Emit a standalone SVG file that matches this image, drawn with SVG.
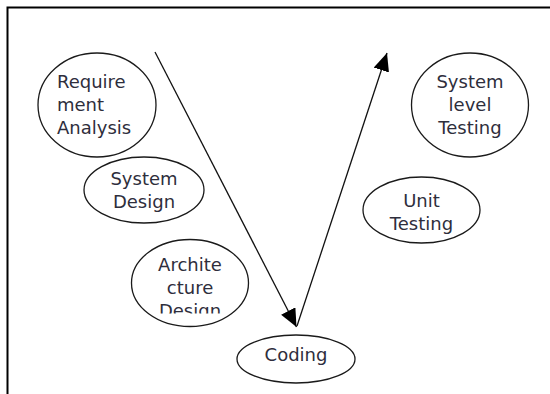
<svg xmlns="http://www.w3.org/2000/svg" width="550" height="394" viewBox="0 0 550 394">
  <style>
    .node ellipse { fill: #ffffff; stroke: #1a1a1a; stroke-width: 1.3; }
    .node text { font-family: "DejaVu Sans", "Liberation Sans", sans-serif; font-size: 18px; fill: #2e2e3c; }
    .mid { text-anchor: middle; }
    .conn { fill: none; stroke: #111111; stroke-width: 1.3; }
  </style>
  <defs>
    <marker id="head" markerUnits="userSpaceOnUse" markerWidth="19" markerHeight="17" refX="18" refY="8" orient="auto">
      <path d="M0,0 L18,8 L0,16 Z" fill="#000000"/>
    </marker>
    <clipPath id="archClip">
      <rect x="120" y="240" width="140" height="73.5"/>
    </clipPath>
  </defs>

  <rect width="550" height="394" fill="#ffffff"/>
  <!-- frame: top and left edges only -->
  <path d="M7.5,394 V7.5 H550" fill="none" stroke="#000000" stroke-width="2"/>

  <g id="req-analysis" class="node">
    <ellipse cx="97" cy="105" rx="59" ry="52"/>
    <text x="57" y="88">Require</text>
    <text x="57" y="111">ment</text>
    <text x="57" y="134">Analysis</text>
  </g>

  <g id="system-design" class="node">
    <ellipse cx="144" cy="190" rx="60" ry="33"/>
    <text class="mid" x="144" y="185">System</text>
    <text class="mid" x="144" y="208">Design</text>
  </g>

  <g id="arch-design" class="node">
    <ellipse cx="190" cy="283" rx="58.5" ry="43.5"/>
    <g clip-path="url(#archClip)">
      <text class="mid" x="190" y="271">Archite</text>
      <text class="mid" x="190" y="294">cture</text>
      <text class="mid" x="190" y="317">Design</text>
    </g>
  </g>

  <g id="coding" class="node">
    <ellipse cx="296" cy="359" rx="59" ry="24"/>
    <text class="mid" x="296" y="361">Coding</text>
  </g>

  <g id="unit-testing" class="node">
    <ellipse cx="421.5" cy="210" rx="58.5" ry="33"/>
    <text class="mid" x="421.5" y="207">Unit</text>
    <text class="mid" x="421.5" y="230">Testing</text>
  </g>

  <g id="system-testing" class="node">
    <ellipse cx="470" cy="105" rx="58.5" ry="52"/>
    <text class="mid" x="470" y="88">System</text>
    <text class="mid" x="470" y="111">level</text>
    <text class="mid" x="470" y="134">Testing</text>
  </g>

  <g id="connectors">
    <line class="conn" x1="155" y1="52" x2="296.5" y2="327" marker-end="url(#head)"/>
    <line class="conn" x1="297" y1="326" x2="387" y2="53" marker-end="url(#head)"/>
  </g>
</svg>
